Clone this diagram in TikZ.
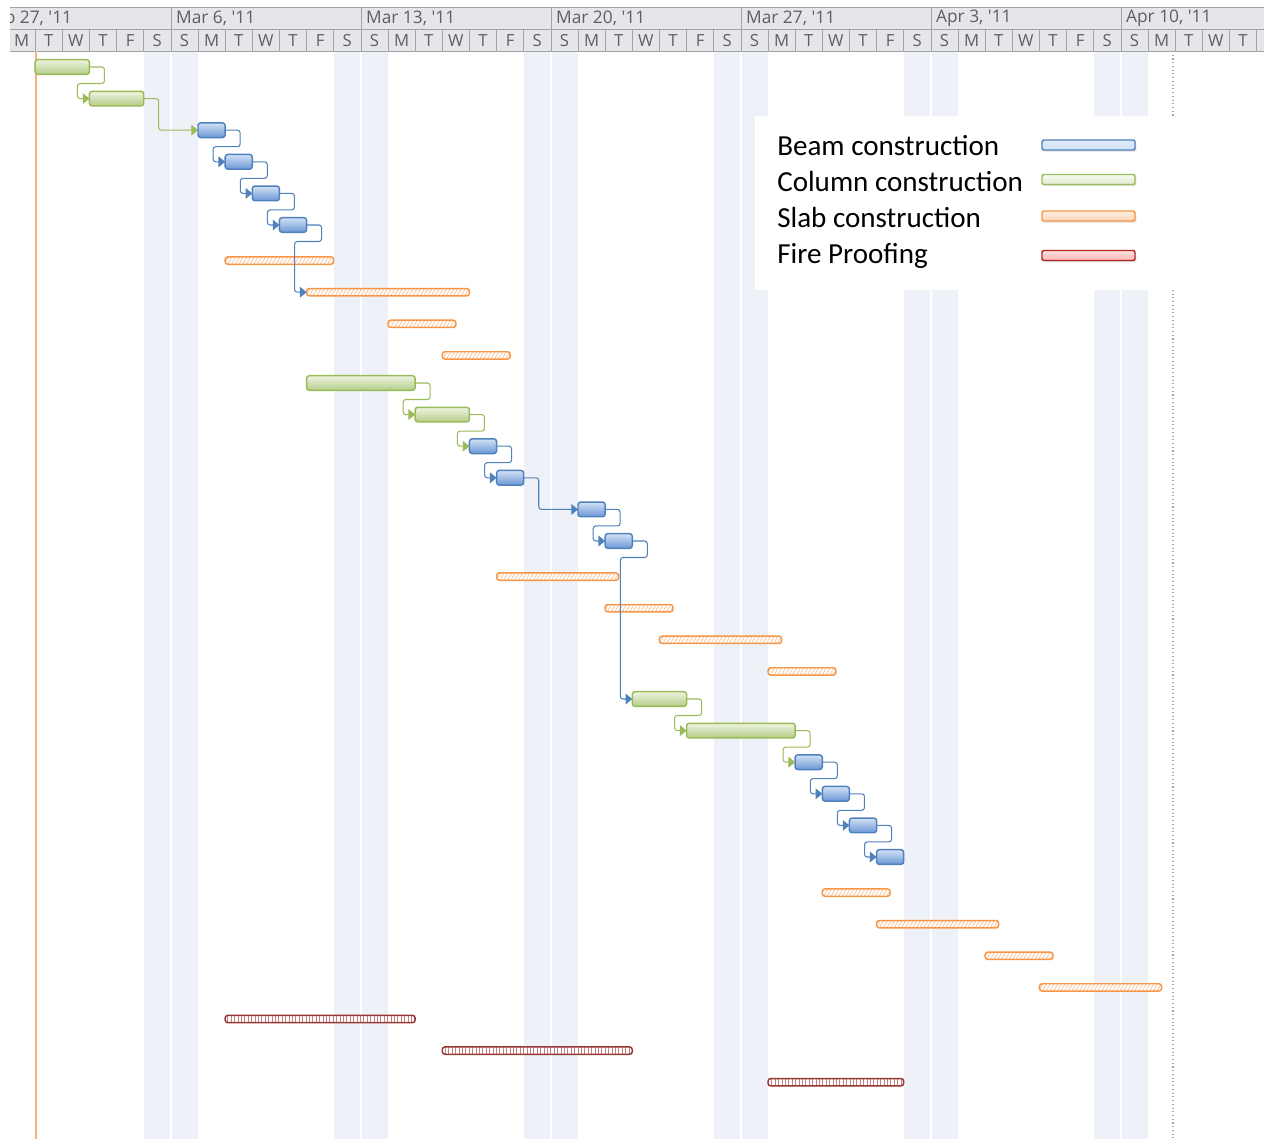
\documentclass[tikz,border=0pt]{standalone}
\usepackage{fontspec}
\setmainfont{Carlito}
\newfontfamily\headfont{Open Sans}
\usetikzlibrary{arrows.meta,patterns.meta,shadows}

\definecolor{beamline}{HTML}{4F81BD}
\definecolor{beamtop}{HTML}{D3E2F6}
\definecolor{beambot}{HTML}{6A97D5}
\definecolor{colline}{HTML}{9BBB59}
\definecolor{coltop}{HTML}{EEF4E2}
\definecolor{colbot}{HTML}{B3CD87}
\definecolor{slabline}{HTML}{F79646}
\definecolor{slabhatch}{HTML}{FBC49A}
\definecolor{fireline}{HTML}{953735}
\definecolor{firehatch}{HTML}{C98080}
\definecolor{todayline}{HTML}{F9B27C}
\definecolor{weekend}{HTML}{EEF1F7}
\definecolor{headfill}{HTML}{E4E6EA}
\definecolor{headline}{HTML}{A3A3A3}
\definecolor{headtext}{HTML}{5F5F5F}

\tikzset{
  taskbar/.style={anchor=west, inner sep=0pt, outer sep=0pt, rounded corners=2pt, line width=1.1pt},
  beambar/.style={taskbar, draw=beamline, minimum height=11pt, top color=beamtop, bottom color=beambot},
  colbar/.style={taskbar, draw=colline, minimum height=11pt, top color=coltop, bottom color=colbot},
  slabbar/.style={taskbar, draw=slabline, minimum height=5.5pt, yshift=-3pt, preaction={fill=white},
    pattern={Lines[angle=60,distance=2.4pt,line width=0.6pt]}, pattern color=slabhatch},
  firebar/.style={taskbar, draw=fireline, minimum height=5.5pt, yshift=-3pt, preaction={fill=white},
    pattern={Lines[angle=90,distance=2.55pt,line width=0.6pt]}, pattern color=firehatch},
  link/.style={line width=0.8pt, rounded corners=2pt, -{Triangle[length=5pt,width=8pt]}},
  bluelink/.style={link, draw=beamline, fill=none},
  greenlink/.style={link, draw=colline},
  monthlabel/.style={anchor=west, inner sep=0pt, text=headtext, font=\headfont\fontsize{13}{15}\selectfont},
  daylabel/.style={inner sep=0pt, text=headtext, font=\headfont\fontsize{12.5}{15}\selectfont},
  legtext/.style={anchor=base west, inner sep=0pt, font=\fontsize{21.8}{26}\selectfont},
  legbar/.style={inner sep=0pt, rounded corners=1.5pt, line width=1.1pt, minimum width=69.75pt, minimum height=7.5pt,
    drop shadow={opacity=0.25, shadow xshift=1pt, shadow yshift=-1.2pt}}
}

% one bar of the chart: style, name, row, first day, length in days
\newcommand{\ganttbar}[5]{\node[#1, minimum width={#5*20.357pt}] (#2) at ({8+#4*190/7},{67+#3*31.6}) {};}

\begin{document}
\begin{tikzpicture}[x=0.75pt, y=-0.75pt]
  \useasboundingbox[fill=white] (0,0) rectangle (1264,1139);

  % weekends
  \foreach \w in {0,...,5} {
    \fill[weekend] ({8+(7*\w+5)*190/7}, 52) rectangle ({8+(7*\w+6)*190/7-1}, 1139);
    \fill[weekend] ({8+(7*\w+6)*190/7+1}, 52) rectangle ({8+(7*\w+7)*190/7}, 1139);
  }

  % timescale
  \begin{scope}
    \clip (10,0) rectangle (1264,60);
    \fill[headfill] (10,7) rectangle (1264,51);
    \draw[headline] (10,7) -- (1264,7) (10,29) -- (1264,29) (10,51) -- (1264,51);
    \foreach \m [count=\k from 0] in {Feb 27,Mar 6,Mar 13,Mar 20,Mar 27,Apr 3,Apr 10} {
      \draw[headline] ({-19.14+190*\k}, 7) -- ({-19.14+190*\k}, 29);
      \node[monthlabel] (month\k) at ({-19.14+190*\k+5}, 18) {\m, \textquotesingle 11};
    }
    \foreach \d in {0,...,45} {
      \pgfmathparse{{"M","T","W","T","F","S","S"}[mod(\d,7)]}
      \edef\dayletter{\pgfmathresult}
      \draw[headline] ({8+\d*190/7}, 29) -- ({8+\d*190/7}, 51);
      \node[daylabel] (day\d) at ({8+(\d+0.5)*190/7}, 40.5) {\dayletter};
    }
    \draw[headline] ({8+46*190/7}, 29) -- ({8+46*190/7}, 51);
  \end{scope}

  % status date and project finish
  \draw[todayline, line width=1.5pt] (36,51) -- (36,1139);
  \draw[headline, line width=0.8pt, dotted] (1173,51) -- (1173,1139);

  % legend
  \fill[white] (755,116) rectangle (1176,290);
  \node[legtext] (tbeam) at (777,155) {Beam construction};
  \node[legtext] (tcol) at (777,191) {Column construction};
  \node[legtext] (tslab) at (777,227) {Slab construction};
  \node[legtext] (tfire) at (777,263) {Fire Proofing};
  \node[legbar, draw=beamline, top color=beamtop!70!white, bottom color=beamtop] (lbeam) at (1088.5,145) {};
  \node[legbar, draw=colline, top color=coltop!50!white, bottom color=coltop!60!colline!60] (lcol) at (1088.5,179.5) {};
  \node[legbar, draw=slabline, top color=slabline!15, bottom color=slabline!40] (lslab) at (1088.5,216) {};
  \node[legbar, draw=fireline!70!red, top color=red!12, bottom color=red!30] (lfire) at (1088.5,255.5) {};

  % tasks
  \foreach \r/\kind/\s/\n in {0/colbar/1/2, 1/colbar/3/2, 2/beambar/7/1, 3/beambar/8/1,
      4/beambar/9/1, 5/beambar/10/1, 6/slabbar/8/4, 7/slabbar/11/6, 8/slabbar/14/2.5,
      9/slabbar/16/2.5, 10/colbar/11/4, 11/colbar/15/2, 12/beambar/17/1, 13/beambar/18/1,
      14/beambar/21/1, 15/beambar/22/1, 16/slabbar/18/4.5, 17/slabbar/22/2.5,
      18/slabbar/24/4.5, 19/slabbar/28/2.5, 20/colbar/23/2, 21/colbar/25/4,
      22/beambar/29/1, 23/beambar/30/1, 24/beambar/31/1, 25/beambar/32/1,
      26/slabbar/30/2.5, 27/slabbar/32/4.5, 28/slabbar/36/2.5, 29/slabbar/38/4.5,
      30/firebar/8/7, 31/firebar/16/7, 32/firebar/28/5}
    {\ganttbar{\kind}{t\r}{\r}{\s}{\n}}

  % links
  \foreach \a/\b in {t0/t1, t10/t11, t11/t12, t20/t21, t21/t22}
    \draw[greenlink] (\a.east) -- ++(15,0) -- ++(0,16.5) -| ([xshift=-9pt]\b.west) -- (\b.west);
  \foreach \a/\b in {t2/t3, t3/t4, t4/t5, t5/t7, t12/t13, t14/t15, t15/t20, t22/t23, t23/t24, t24/t25}
    \draw[bluelink] (\a.east) -- ++(15,0) -- ++(0,16.5) -| ([xshift=-9pt]\b.west) -- (\b.west);
  \draw[greenlink] (t1.east) -- ++(15,0) |- (t2.west);
  \draw[bluelink] (t13.east) -- ++(15,0) |- (t14.west);
\end{tikzpicture}
\end{document}
